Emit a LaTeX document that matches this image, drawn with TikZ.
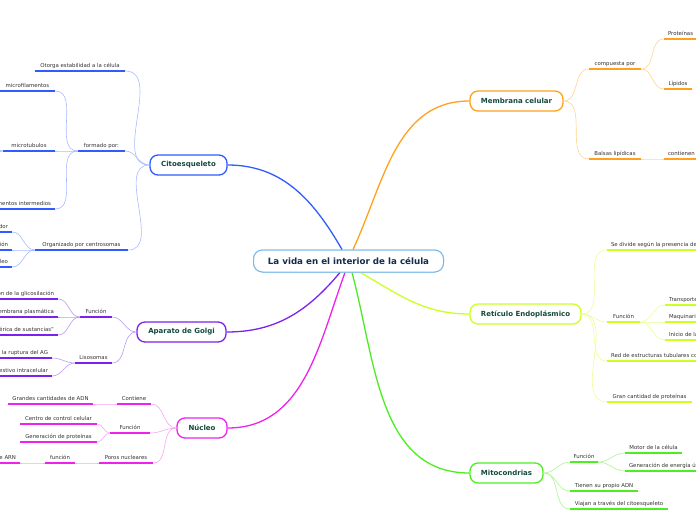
\documentclass[tikz,border=0pt]{standalone}
\usepackage{fontspec}
\setmainfont{DejaVu Sans}
\definecolor{citoD}{HTML}{2F5BFF}
\definecolor{citoL}{HTML}{A8BCFF}
\definecolor{memD}{HTML}{FFA11F}
\definecolor{memL}{HTML}{FFD592}
\definecolor{retD}{HTML}{CCFF22}
\definecolor{retL}{HTML}{EAFF99}
\definecolor{golD}{HTML}{7B22EE}
\definecolor{golL}{HTML}{B99AF5}
\definecolor{nucD}{HTML}{EE22EE}
\definecolor{nucL}{HTML}{F6A6F6}
\definecolor{mitD}{HTML}{4CEE22}
\definecolor{mitL}{HTML}{ABF594}
\definecolor{rootc}{HTML}{7DB9E6}
\definecolor{roottext}{HTML}{152A4F}
\definecolor{topictext}{HTML}{134A3C}
\definecolor{labtext}{HTML}{333333}
\newcommand\mmL[2]{\makebox[#1][l]{\hspace{4pt}#2}}
\newcommand\mmR[2]{\makebox[#1][r]{#2\hspace{4pt}}}
\begin{document}
\begin{tikzpicture}[x=1pt,y=-1pt,
  rootbox/.style={draw=rootc, line width=1pt, rounded corners=9pt, fill=white,
    minimum height=22pt, minimum width=190pt, inner xsep=6pt,
    font=\bfseries\fontsize{8.7}{10}\selectfont, text=roottext},
  topic/.style={draw=#1, line width=1.3pt, rounded corners=8pt, fill=white,
    minimum height=20pt, inner xsep=10pt,
    font=\bfseries\fontsize{7}{8}\selectfont, text=topictext},
  lab/.style={anchor=south, inner xsep=0pt, inner ysep=1.8pt,
    font=\fontsize{5.4}{6.5}\selectfont, text=labtext, text height=4pt, text depth=1.1pt},
  ul/.style={line width=1.6pt, draw=#1},
  br/.style={line width=0.6pt, draw=#1},
  mainline/.style={line width=1.3pt, draw=#1}
]
\useasboundingbox (0,0) rectangle (696,520);
\clip (0,0) rectangle (696,520);

% ---------- root and topics
\node[rootbox] (root) at (348.5,261) {La vida en el interior de la célula};
\node[topic=citoD, minimum width=77pt] (C) at (188.5,165) {Citoesqueleto};
\node[topic=memD, minimum width=93pt] (M) at (516.5,101) {Membrana celular};
\node[topic=retD, minimum width=111pt] (R) at (525.5,314) {Retículo Endoplásmico};
\node[topic=golD, minimum width=89pt] (G) at (181.5,332) {Aparato de Golgi};
\node[topic=nucD, minimum width=50pt] (N) at (202,428) {Núcleo};
\node[topic=mitD, minimum width=73pt] (Mi) at (506.5,473) {Mitocondrias};

% ---------- Citoesqueleto children
\node[lab, minimum width=90pt] (c1) at (80,71) {Otorga estabilidad a la célula};
\node[lab, minimum width=47pt] (c2) at (101.5,151) {formado por:};
\node[lab, minimum width=55pt] (c21) at (27.5,91) {microfilamentos};
\node[lab, minimum width=52pt] (c22) at (29,151) {microtubulos};
\node[lab] (c23) at (20,209) {\mmR{70pt}{filamentos intermedios}};
\node[lab, minimum width=93pt] (c3) at (81.5,250) {Organizado por centrosomas};
\node[lab] (c31) at (-13,232) {\mmR{50pt}{Centro organizador}};
\node[lab] (c32) at (-13,250) {\mmR{50pt}{Participa en la división}};
\node[lab] (c33) at (-13,267) {\mmR{50pt}{Ubicado cerca del núcleo}};
\coordinate (c22a) at (-10,138);
\coordinate (c22b) at (-10,164);

% ---------- Golgi children
\node[lab, minimum width=32pt] (g1) at (96,317) {Función};
\node[lab] (g11) at (18,299) {\mmR{80pt}{Terminación de la glicosilación}};
\node[lab] (g12) at (18,317) {\mmR{80pt}{Renovación de la membrana plasmática}};
\node[lab] (g13) at (18,335) {\mmR{80pt}{Actúa como “fábrica genérica de sustancias”}};
\node[lab, minimum width=37pt] (g2) at (93.5,363) {Lisosomas};
\node[lab] (g21) at (12,358) {\mmR{80pt}{Se forman por la ruptura del AG}};
\node[lab] (g22) at (12,376) {\mmR{80pt}{Sistema digestivo intracelular}};

% ---------- Nucleo children
\node[lab, minimum width=34pt] (n1) at (134,404) {Contiene};
\node[lab, minimum width=85pt] (n11) at (50.5,404) {Grandes cantidades de ADN};
\node[lab, minimum width=40pt] (n2) at (130,433) {Función};
\node[lab, minimum width=77pt] (n21) at (58.5,424) {Centro de control celular};
\node[lab, minimum width=77pt] (n22) at (58.5,442) {Generación de proteínas};
\node[lab, minimum width=54pt] (n3) at (126,463) {Poros nucleares};
\node[lab, minimum width=30pt] (n31) at (60,463) {función};
\node[lab] (n311) at (-10,463) {\mmR{60pt}{Transporte de ARN}};

% ---------- Membrana children
\node[lab, minimum width=52pt] (m1) at (615,69) {compuesta por};
\node[lab] (m11) at (692,39) {\mmL{56pt}{Proteínas}};
\node[lab, minimum width=28pt] (m12) at (678,89) {Lípidos};
\node[lab, minimum width=52pt] (m2) at (615,159) {Balsas lipídicas};
\node[lab] (m21) at (692,159) {\mmL{56pt}{contienen}};

% ---------- Reticulo children
\node[lab] (r1) at (673.5,250) {\mmL{133pt}{Se divide según la presencia de ribosomas}};
\node[lab, minimum width=33pt] (r2) at (623.5,322) {Función};
\node[lab] (r21) at (692.5,305) {\mmL{55pt}{Transporte de proteínas}};
\node[lab] (r22) at (692.5,322) {\mmL{55pt}{Maquinaria de síntesis}};
\node[lab] (r23) at (692.5,340) {\mmL{55pt}{Inicio de la glicosilación}};
\node[lab] (r3) at (673.5,361) {\mmL{133pt}{Red de estructuras tubulares conectadas}};
\node[lab, minimum width=85pt] (r4) at (649.5,402) {Gran cantidad de proteínas};

% ---------- Mitocondrias children
\node[lab, minimum width=28pt] (mi1) at (584,462) {Función};
\node[lab, minimum width=57pt] (mi11) at (653.5,453) {Motor de la célula};
\node[lab] (mi12) at (672.5,471) {\mmL{95pt}{Generación de energía útil}};
\node[lab, minimum width=68pt] (mi2) at (604,491) {Tienen su propio ADN};
\node[lab, minimum width=98pt] (mi3) at (619,509) {Viajan a través del citoesqueleto};

% ---------- thin branch connectors
\draw[br=citoL] (C.west) to[out=180,in=0] (c1.south east);
\draw[br=citoL] (C.west) to[out=180,in=0] (c2.south east);
\draw[br=citoL] (C.west) to[out=180,in=0] (c3.south east);
\draw[br=citoL] (c2.south west) to[out=180,in=0] (c21.south east);
\draw[br=citoL] (c2.south west) to[out=180,in=0] (c22.south east);
\draw[br=citoL] (c2.south west) to[out=180,in=0] (c23.south east);
\draw[br=citoL] (c22.south west) to[out=180,in=0] (c22a);
\draw[br=citoL] (c22.south west) to[out=180,in=0] (c22b);
\draw[br=citoL] (c3.south west) to[out=180,in=0] (c31.south east);
\draw[br=citoL] (c3.south west) to[out=180,in=0] (c32.south east);
\draw[br=citoL] (c3.south west) to[out=180,in=0] (c33.south east);

\draw[br=golL] (G.west) to[out=180,in=0] (g1.south east);
\draw[br=golL] (G.west) to[out=180,in=0] (g2.south east);
\draw[br=golL] (g1.south west) to[out=180,in=0] (g11.south east);
\draw[br=golL] (g1.south west) to[out=180,in=0] (g12.south east);
\draw[br=golL] (g1.south west) to[out=180,in=0] (g13.south east);
\draw[br=golL] (g2.south west) to[out=180,in=0] (g21.south east);
\draw[br=golL] (g2.south west) to[out=180,in=0] (g22.south east);

\draw[br=nucL] (N.west) to[out=180,in=0] (n1.south east);
\draw[br=nucL] (N.west) to[out=180,in=0] (n2.south east);
\draw[br=nucL] (N.west) to[out=180,in=0] (n3.south east);
\draw[br=nucL] (n1.south west) to[out=180,in=0] (n11.south east);
\draw[br=nucL] (n2.south west) to[out=180,in=0] (n21.south east);
\draw[br=nucL] (n2.south west) to[out=180,in=0] (n22.south east);
\draw[br=nucL] (n3.south west) to[out=180,in=0] (n31.south east);
\draw[br=nucL] (n31.south west) to[out=180,in=0] (n311.south east);

\draw[br=memL] (M.east) to[out=0,in=180] (m1.south west);
\draw[br=memL] (M.east) to[out=0,in=180] (m2.south west);
\draw[br=memL] (m1.south east) to[out=0,in=180] (m11.south west);
\draw[br=memL] (m1.south east) to[out=0,in=180] (m12.south west);
\draw[br=memL] (m2.south east) to[out=0,in=180] (m21.south west);

\draw[br=retL] (R.east) to[out=0,in=180] (r1.south west);
\draw[br=retL] (R.east) to[out=0,in=180] (r2.south west);
\draw[br=retL] (R.east) to[out=0,in=180] (r3.south west);
\draw[br=retL] (R.east) to[out=0,in=180] (r4.south west);
\draw[br=retL] (r2.south east) to[out=0,in=180] (r21.south west);
\draw[br=retL] (r2.south east) to[out=0,in=180] (r22.south west);
\draw[br=retL] (r2.south east) to[out=0,in=180] (r23.south west);

\draw[br=mitL] (Mi.east) to[out=0,in=180] (mi1.south west);
\draw[br=mitL] (Mi.east) to[out=0,in=180] (mi2.south west);
\draw[br=mitL] (Mi.east) to[out=0,in=180] (mi3.south west);
\draw[br=mitL] (mi1.south east) to[out=0,in=180] (mi11.south west);
\draw[br=mitL] (mi1.south east) to[out=0,in=180] (mi12.south west);

% ---------- underlines
\foreach \n in {c1,c2,c21,c22,c23,c3,c31,c32,c33}
  \draw[ul=citoD] (\n.south west) -- (\n.south east);
\foreach \n in {g1,g11,g12,g13,g2,g21,g22}
  \draw[ul=golD] (\n.south west) -- (\n.south east);
\foreach \n in {n1,n11,n2,n21,n22,n3,n31,n311}
  \draw[ul=nucD] (\n.south west) -- (\n.south east);
\foreach \n in {m1,m11,m12,m2,m21}
  \draw[ul=memD] (\n.south west) -- (\n.south east);
\foreach \n in {r1,r2,r21,r22,r23,r3,r4}
  \draw[ul=retD] (\n.south west) -- (\n.south east);
\foreach \n in {mi1,mi11,mi12,mi2,mi3}
  \draw[ul=mitD] (\n.south west) -- (\n.south east);

% ---------- main connectors
\draw[mainline=citoD] ([xshift=-6.5pt]root.north) to[out=120,in=0] (C.east);
\draw[mainline=memD] ([xshift=4.5pt]root.north) to[out=65,in=180] (M.west);
\draw[mainline=golD] ([xshift=-8.5pt]root.south) to[out=230,in=0] (G.east);
\draw[mainline=nucD] ([xshift=-3.5pt]root.south) to[out=250,in=0] (N.east);
\draw[mainline=mitD] ([xshift=3.5pt]root.south) to[out=285,in=180] (Mi.west);
\draw[mainline=retD] ([xshift=12pt]root.south) to[out=-30,in=180] (R.west);

% redraw root box on top
\node[rootbox] at (root) {La vida en el interior de la célula};
\end{tikzpicture}
\end{document}
